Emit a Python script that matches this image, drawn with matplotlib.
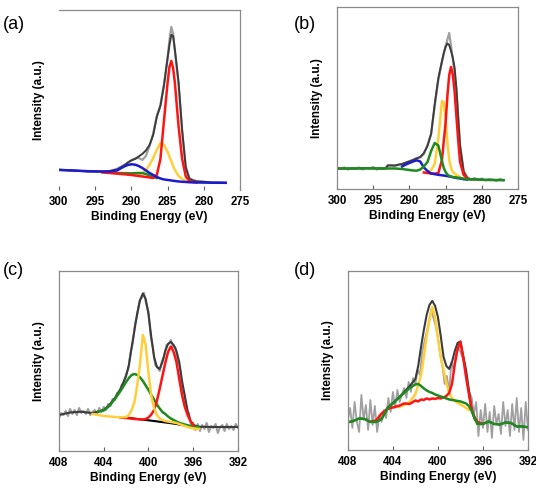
import numpy as np
import matplotlib
matplotlib.use('Agg')
import matplotlib.pyplot as plt

plt.rcParams['font.family'] = ['Liberation Sans', 'DejaVu Sans']

# ---- panel (a): C 1s ----
energy_a = [300, 298, 296, 294, 293, 292, 291, 290.5, 290, 289.5, 289, 288.5, 288, 287.5, 287,
            286.5, 286, 285.5, 285, 284.75, 284.5, 284.25, 284, 283.5, 283, 282.5, 282, 281.5,
            281, 280, 279, 278, 277]
raw_a = [20.5, 19, 19, 18, 19, 21, 25, 27, 30, 31.5, 32, 30, 34, 44, 56, 74, 85, 106, 133, 150,
         163, 156, 139, 106, 58, 24, 12, 10, 9, 8.5, 7, 7.5, 7]
fit_a = [20, 19.5, 18.5, 18.5, 18.8, 20.5, 24.5, 27.5, 29.5, 31, 33.5, 36, 39.5, 45, 55, 73, 84,
         105, 132, 145, 155, 154, 140, 108, 60, 22, 11, 9.5, 8.5, 8, 7.5, 7.3, 7.2]
red_a = [None, None, None, 17.5, 17, 16.3, 15.7, 15.3, 15, 14.5, 14, 13.5, 13, 12.5, 12, 15, 31,
         70, 108, 123, 129, 122, 107, 64, 31, 13.5, 9, 8, 7.5, None, None, None, None]
yellow_a = [None] * 10 + [15.5, 17, 20, 25, 32, 40, 47, 45, 38, 33, 29, 24, 20, 14, 11, 9] + [None] * 7
blue_a = [20, 19.5, 18.7, 18.5, 18.5, 19.5, 23.5, 25, 25.7, 25.3, 24, 22, 19.5, 17, 15, 13, 11.5,
          10.5, 10, 9.8, 9.5, 9.2, 9, 8.5, 8.2, 8, 7.7, 7.6, 7.5, 7.4, 7.3, 7.2, 7.2]
green_a = [None] * 4 + [17.3, 17, 16.8, 16.7, 16.6, 16.8, 17, 16.8, 16, 14.5, 13, 12] + [None] * 17

# ---- panel (b): C 1s ----
energy_b = [300, 298, 296, 294, 293.2, 293, 292, 291, 290.5, 290, 289.5, 289, 288.5, 288, 287.5,
            287, 286.5, 286, 285.5, 285.25, 285, 284.75, 284.5, 284.25, 284, 283.75, 283.5,
            283.25, 283, 282.5, 282, 281.5, 281, 280, 279, 278, 277]
raw_energy_b = np.linspace(300, 277, 47)
raw_b = [21, 20, 21.5, 19.5, 21, 20, 21.5, 19.5, 21, 20.5, 22, 19.5, 21, 20, 23.5, 24, 23, 24.5,
         25, 26, 28, 29, 31, 31.5, 35, 44, 55, 83, 109, 127, 143, 156, 130, 99, 44, 18, 12, 9,
         11, 9, 10.5, 8.5, 10, 9.5, 8, 10, 9]
fit_b = [20.5, 20.5, 20.7, 20.5, 20.5, 23.5, 23.5, 25, 26.5, 27.5, 29, 30.5, 32, 36, 43, 55, 85,
         111, 128, 136, 142, 145.5, 144, 138, 131, 121, 100, 70, 43, 17, 10.5, 10, 9.7, 9.3, 9,
         9, 8.8]
red_b = [None] * 13 + [16.5, 16, 15.5, 15.3, 16, 29, 48, 66, 93, 114, 122, 114, 97, 72, 48, 27,
                       14, 10.5] + [None] * 6
yellow_b = [None] * 14 + [16.5, 19, 25, 51, 88, 87, 70, 47, 29, 21, 17, 15.5, 14, 13, 12] + [None] * 8
green_b = [20.5, 20.5, 20.7, 20.5, 20.5, 20.5, 20.5, 20, 19.5, 19, 18.5, 18.3, 19.5, 22.5, 27, 38,
           46, 43.5, 28, 21, 17, 14.5, 13, 12.5, 12, 11.8, 11.5, 11.2, 11, 10.3, 9.8, 9.5, 9.5,
           9.3, 9, 9, 8.8]
blue_b = [None] * 7 + [22.5, 24.5, 26, 27.5, 28.7, 27.5, 21.5, 18, 15.5, 14.8, 14.2, 13.7, 13.5,
                       13.2, 12.9, 12.5, 12.2, 11.8, 11.4, 11, 10.8, 10.5, 9.8, 9.5] + [None] * 6

# ---- panel (c): N 1s ----
energy_c = [408, 407, 406, 405.5, 405, 404.5, 404, 403.5, 403, 402.5, 402, 401.75, 401.5, 401.25,
            401, 400.75, 400.5, 400.25, 400, 399.75, 399.5, 399.25, 399, 398.75, 398.5, 398.25,
            398, 397.75, 397.5, 397.25, 397, 396.75, 396.5, 396.25, 396, 395.5, 395, 394, 393, 392]
raw_energy_cd = np.linspace(408, 392, 81)
raw_c = [33, 38, 36, 40, 35, 42, 37, 41, 36, 43, 38, 40, 37, 42, 36, 39, 41, 37, 43, 39, 44, 41,
         47, 45, 52, 51, 58, 59, 66, 68, 77, 82, 98, 108, 127, 136, 150, 153, 158, 147, 139, 115,
         103, 86, 84, 80, 90, 94, 106, 107, 111, 104, 104, 90, 84, 64, 57, 41, 38, 26, 28, 21, 27,
         20, 26, 22, 28, 19, 25, 23, 27, 18, 24, 26, 20, 27, 22, 25, 21, 27, 23]
fit_c = [36, 38.5, 39.3, 38.5, 38, 39.3, 41, 46, 53, 62, 75, 86, 104, 121, 138, 151, 157.5, 152,
         137, 114, 94, 84, 82, 89, 100, 107, 109, 106, 100, 89, 70, 55, 40, 30, 26, 24.3, 24.2,
         24, 24, 24]
red_c = [None] * 9 + [33.5, 33, 32.7, 32.3, 32, 31.8, 31.6, 31.5, 32, 33.5, 36.5, 41, 50, 62, 75,
                      88, 99, 104.5, 99, 89, 72, 56, 44, 36, 30, 26] + [None] * 5
yellow_c = [None] * 4 + [37, 36, 35, 34.5, 34, 33.8, 34, 36, 41, 49, 66, 88, 116, 106, 78, 55, 43,
                         36, 32.5, 31, 30, 29.5, 29, 28.5, 28, 27, 26, 25, 24, 23.2, 22.7, 22] + [None] * 4
green_c = [None] * 5 + [39.3, 40.5, 45, 52, 60, 69, 73, 76, 77, 76, 73.5, 70, 65.5, 61, 56, 51.5,
                        46.5, 42.5, 39, 37, 34.5, 32.5, 31, 29.5, 28.3, 27.3, 26.5, 25.7, 25, 24.5,
                        24] + [None] * 4
bg_c = [None] * 10 + [33.5, 33.2, 32.8, 32.4, 32, 31.7, 31.3, 31, 30.7, 30.3, 30, 29.6, 29.2, 28.9,
                      28.5, 28.2, 27.8, 27.4, 27, 26.5, 26, 25.4, 24.8, 24.1, 23.5] + [None] * 5

# ---- panel (d): N 1s ----
energy_d = [408, 407.5, 407, 406.5, 406, 405.5, 405, 404.5, 404, 403.5, 403, 402.5, 402, 401.75,
            401.5, 401.25, 401, 400.75, 400.5, 400.25, 400, 399.75, 399.5, 399.25, 399, 398.75,
            398.5, 398.25, 398, 397.75, 397.5, 397.25, 397, 396.75, 396.5, 396, 395.5, 395,
            394.5, 394, 393.5, 393, 392.5, 392]
raw_d = [30, 42, 22, 48, 28, 18, 55, 30, 45, 20, 50, 25, 44, 18, 35, 28, 40, 32, 52, 38, 58, 42,
         60, 48, 55, 62, 52, 68, 58, 72, 66, 80, 75, 98, 108, 118, 128, 140, 132, 124, 112, 96,
         84, 66, 74, 58, 88, 80, 96, 102, 98, 92, 84, 66, 58, 52, 36, 48, 14, 40, 22, 46, 18, 38,
         12, 44, 26, 36, 16, 48, 24, 40, 14, 46, 20, 52, 18, 42, 10, 48, 20]
fit_d = [27.7, 29, 31.5, 31, 28, 28, 31, 42, 47, 52, 58, 64, 71, 84, 103, 120, 135, 145, 149, 144,
         133, 114, 93, 84, 81, 88, 99, 107, 108.5, 94, 80, 60, 40, 31, 27, 26, 28.5, 26, 25.5,
         27.5, 27, 23.5, 23.5, 22.7]
green_d = [27.7, 29, 31.5, 31, 28, 28, 31, 41, 46.5, 52, 57, 62, 65.5, 66, 64, 61.5, 59.5, 58, 57,
           55.5, 54.5, 53.5, 52.5, 51.5, 50.5, 50, 49.5, 49, 48.5, 47.5, 46.5, 44, 39, 32, 26, 26,
           28.5, 26, 25.5, 27.5, 27, 23.5, 23.5, 22.7]
yellow_d = [None] * 9 + [43, 45, 48, 56, 65, 75, 93, 114, 130, 143, 133, 112, 93, 80, 67, 57, 52,
                         49, 47, 45.5, 44, 42, 40] + [None] * 12
red_d = [None] * 4 + [28.3, 29.5, 36.5, 41, 42.5, 44, 46.5, 46, 49.5, 48.5, 50.5, 50, 51.5, 50.5,
                      51.5, 51, 52, 51.5, 52.5, 54, 57, 66, 86, 101, 108, 92, 73, 56, 40, 33, 28,
                      26] + [None] * 8

RAW = '#a0a0a0'
FIT = '#3c3c3c'
RED = '#ff1414'
YELLOW = '#ffcf3a'
GREEN = '#1f8a1f'
BLUE = '#1c1ccc'
LW = 1.8


def arr(v):
    return np.array(v, dtype=float)


def style(ax, xlim, ticks, ytop, spines_on):
    ax.set_xlim(*xlim)
    ax.set_ylim(0, ytop)
    ax.set_xticks(ticks)
    ax.set_xticklabels([str(t) for t in ticks], fontweight='bold', fontsize=8.3)
    ax.set_yticks([])
    ax.tick_params(axis='x', direction='in', length=3, width=0.8, color='#606060', pad=4.5)
    for side, sp in ax.spines.items():
        sp.set_visible(side in spines_on)
        sp.set_color('#8a8a8a')
        sp.set_linewidth(0.9)
    ax.set_xlabel('Binding Energy (eV)', fontweight='bold', fontsize=8.7)
    ax.xaxis.set_label_coords(0.5, -0.115)
    ax.text(-0.11, 0.5, 'Intensity (a.u.)', transform=ax.transAxes, rotation=90,
            ha='center', va='center', fontweight='bold', fontsize=8.5)


fig = plt.figure(figsize=(5.36, 4.88), dpi=100)

# (a)
ax = fig.add_axes([0.110, 0.6107, 0.338, 0.369])
ax.plot(energy_a, raw_a, color=RAW, lw=1.6)
ax.plot(energy_a, fit_a, color=FIT, lw=1.4)
ax.plot(energy_a, arr(yellow_a), color=YELLOW, lw=LW)
ax.plot(energy_a, arr(green_a), color=GREEN, lw=LW)
ax.plot(energy_a, arr(red_a), color=RED, lw=LW)
ax.plot(energy_a, arr(blue_a), color=BLUE, lw=LW)
style(ax, (300, 275), [300, 295, 290, 285, 280, 275], 180, ['top', 'right'])

# (b)
ax = fig.add_axes([0.6287, 0.6127, 0.3377, 0.373])
ax.plot(raw_energy_b, raw_b, color=RAW, lw=1.6)
ax.plot(energy_b, fit_b, color=FIT, lw=1.4)
ax.plot(energy_b, arr(yellow_b), color=YELLOW, lw=LW)
ax.plot(energy_b, arr(red_b), color=RED, lw=LW)
ax.plot(energy_b, arr(blue_b), color=BLUE, lw=LW)
ax.plot(energy_b, arr(green_b), color=GREEN, lw=LW)
style(ax, (300, 275), [300, 295, 290, 285, 280, 275], 182, ['top', 'right', 'left', 'bottom'])

# (c)
ax = fig.add_axes([0.110, 0.0758, 0.334, 0.369])
ax.plot(raw_energy_cd, raw_c, color=RAW, lw=1.5)
ax.plot(energy_c, fit_c, color=FIT, lw=1.5)
ax.plot(energy_c, arr(bg_c), color='black', lw=1.5)
ax.plot(energy_c, arr(green_c), color=GREEN, lw=LW)
ax.plot(energy_c, arr(red_c), color=RED, lw=LW)
ax.plot(energy_c, arr(yellow_c), color=YELLOW, lw=LW)
style(ax, (408, 392), [408, 404, 400, 396, 392], 180, ['top', 'right', 'left', 'bottom'])

# (d)
ax = fig.add_axes([0.649, 0.0779, 0.336, 0.367])
ax.plot(raw_energy_cd, raw_d, color=RAW, lw=1.3)
ax.plot(energy_d, fit_d, color=FIT, lw=1.5)
ax.plot(energy_d, arr(yellow_d), color=YELLOW, lw=LW)
ax.plot(energy_d, arr(red_d), color=RED, lw=LW)
ax.plot(energy_d, arr(green_d), color=GREEN, lw=LW)
style(ax, (408, 392), [408, 404, 400, 396, 392], 179, ['top', 'right', 'left', 'bottom'])

for label, x, y in [('(a)', 0.006, 0.950), ('(b)', 0.549, 0.950),
                    ('(c)', 0.006, 0.446), ('(d)', 0.549, 0.446)]:
    fig.text(x, y, label, fontsize=13, ha='left', va='center')

fig.savefig('out.png', dpi=100)
